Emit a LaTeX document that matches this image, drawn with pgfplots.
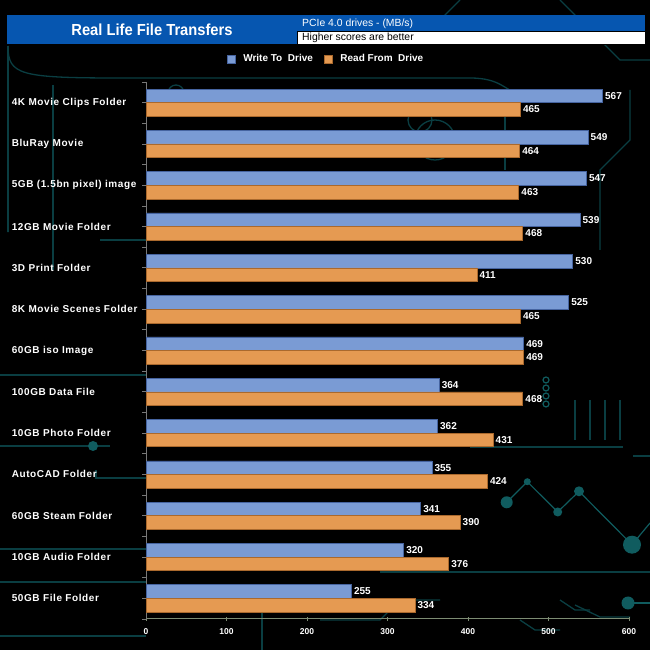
\documentclass[border=0pt]{standalone}
\usepackage{pgfplots}
\pgfplotsset{compat=1.18}
\usepackage{fontspec}
\setmainfont{Liberation Sans}
\definecolor{wblue}{RGB}{122,155,212}
\definecolor{wblueD}{RGB}{70,100,160}
\definecolor{rorange}{RGB}{229,154,82}
\definecolor{rorangeD}{RGB}{170,105,45}
\definecolor{tblue}{RGB}{6,86,176}
\definecolor{teal1}{RGB}{16,92,95}
\definecolor{teal2}{RGB}{10,62,66}
\definecolor{axgray}{RGB}{120,120,120}
\definecolor{axgreen}{RGB}{125,140,115}
\begin{document}
\begin{tikzpicture}[x=1pt,y=1pt]
\path[use as bounding box] (0,0) rectangle (650,650);
\fill[black] (0,0) rectangle (650,650);
\begin{scope}[yshift=650pt,yscale=-1]
 % background decoration
 \begin{scope}[draw=teal2,line width=1.3pt]
  \draw (8,46) -- (8,190) to[out=-90,in=90] (8,230);
  \draw (8,46) .. controls (8,75) and (20,78) .. (120,78) -- (470,78) .. controls (500,78) and (505,90) .. (520,95);
  \draw (53,85) -- (53,270);
  \draw (0,375) -- (146,375);
  \draw (0,446) -- (110,446);
  \draw (0,549) -- (146,549);
  \draw (0,582) -- (146,582);
  \draw (0,636) -- (146,636);
  \draw (96,470) -- (96,478) -- (146,478);
  \draw (100,240) -- (146,240);
  \draw (380,572) -- (650,572);
  \draw (470,447) -- (623,447);
  \draw[line width=2pt] (633,456) -- (650,456);
  \draw (505,90) -- (505,170);
  \draw (630,90) -- (630,140) -- (600,170) -- (600,250);
  \draw (575,400) -- (575,440);
  \draw (590,400) -- (590,440);
  \draw (605,400) -- (605,440);
  \draw (620,400) -- (620,440);
  \draw (560,600) -- (575,610) -- (590,610);
  \draw (575,605) -- (600,617) -- (630,617);
  \draw (520,620) -- (535,630) -- (560,630);
  \draw (262,590) -- (262,650);
  \draw (320,620) -- (380,620) -- (400,600) -- (440,600);
  \draw (460,0) -- (440,20);
  \draw (560,0) -- (580,20) -- (620,60) -- (650,60);
  \draw (176,93) circle (8);
  \draw (420,120) circle (12);
  \draw (435,140) circle (20);
 \end{scope}
 \begin{scope}[teal1]
  \draw[line width=1.2pt] (506.7,502.3)--(527.3,481.7)--(557.7,512)--(579,491.3)--(632,544.7)--(650,523);
  \fill (506.7,502.3) circle (6);
  \fill (527.3,481.7) circle (3.5);
  \fill (557.7,512) circle (4.5);
  \fill (579,491.3) circle (5);
  \fill (632,544.7) circle (9);
  \fill (628,603) circle (6.5);
  \draw[line width=1.5pt] (628,603) -- (650,603);
  \fill (93,446) circle (5);
  \draw[line width=1.2pt] (546,380) circle (3);
  \draw[line width=1.2pt] (546,388) circle (3);
  \draw[line width=1.2pt] (546,396) circle (3);
  \draw[line width=1.2pt] (546,404) circle (3);
 \end{scope}
 % title boxes
 \fill[tblue] (7,15) rectangle (297,44);
 \node[text=white,font=\fontsize{16}{18}\selectfont\bfseries] at (152,30) {\scalebox{0.92}[1]{Real Life File Transfers}};
 \fill[tblue] (297,15) rectangle (645,31);
 \fill[white] (297,31) rectangle (645,44);
 \draw[black,line width=0.6pt] (297,31) rectangle (645,44);
 \node[anchor=west,text=white,font=\fontsize{10.4}{12}\selectfont,inner sep=0pt] at (302,23.5) {PCIe 4.0 drives - (MB/s)};
 \node[anchor=west,text=black,font=\fontsize{10.4}{12}\selectfont,inner sep=0pt] at (302,38) {Higher scores are better};
\end{scope}
\begin{axis}[
  at={(146pt,31pt)}, anchor=south west,
  width=483pt, height=537pt, scale only axis,
  xmin=0, xmax=600, ymin=-0.5, ymax=12.5,
  axis x line*=bottom, axis y line*=left,
  x axis line style={axgreen,line width=1pt,-},
  y axis line style={axgray,line width=1pt,-},
  xtick={0,100,...,600},
  ytick={0,...,12},
  minor ytick={-0.5,0.5,...,12.5},
  yticklabels={50GB File Folder,10GB Audio Folder,60GB Steam Folder,AutoCAD Folder,10GB Photo Folder,100GB Data File,60GB iso Image,8K Movie Scenes Folder,3D Print Folder,12GB Movie Folder,5GB (1.5bn pixel) image,BluRay Movie,4K Movie Clips Folder},
  tick align=outside,
  major tick length=4pt, minor tick length=4pt,
  xtick style={axgreen,line width=1pt,yshift=2pt},
  ytick style={axgray,line width=0.8pt},
  minor tick style={axgray,line width=0.8pt},
  /pgf/number format/assume math mode=true,
  xticklabel style={text=white,font=\fontsize{8.5}{10}\selectfont\bfseries,yshift=-2pt},
  yticklabel style={text=white,font=\fontsize{10}{12}\selectfont\bfseries\addfontfeature{LetterSpace=6},text width=130pt,align=left,inner sep=0pt},
  xbar, bar width=0.33,
  nodes near coords,
  every node near coord/.append style={text=white,font=\fontsize{10}{12}\selectfont\bfseries,inner sep=2.5pt,anchor=west},
  legend columns=2,
  legend style={at={(0.3706,1.0428)},anchor=center,draw=none,fill=none,text=white,font=\fontsize{10}{12}\selectfont\bfseries,nodes={inner sep=0pt},/tikz/every odd column/.append style={column sep=8pt},/tikz/every even column/.append style={column sep=11pt}},
  legend image code/.code={\fill[#1] (0pt,-4pt) rectangle (8pt,4pt);},
  clip=false,
]
\addplot[fill=wblue,draw=wblueD,line width=0.5pt,bar shift=0.165] coordinates {
(255,0) (320,1) (341,2) (355,3) (362,4) (364,5) (469,6) (525,7) (530,8) (539,9) (547,10) (549,11) (567,12)};
\addplot[fill=rorange,draw=rorangeD,line width=0.5pt,bar shift=-0.165] coordinates {
(334,0) (376,1) (390,2) (424,3) (431,4) (468,5) (469,6) (465,7) (411,8) (468,9) (463,10) (464,11) (465,12)};
\legend{Write To\ \ Drive,Read From\ \ Drive}
\end{axis}
\end{tikzpicture}
\end{document}
